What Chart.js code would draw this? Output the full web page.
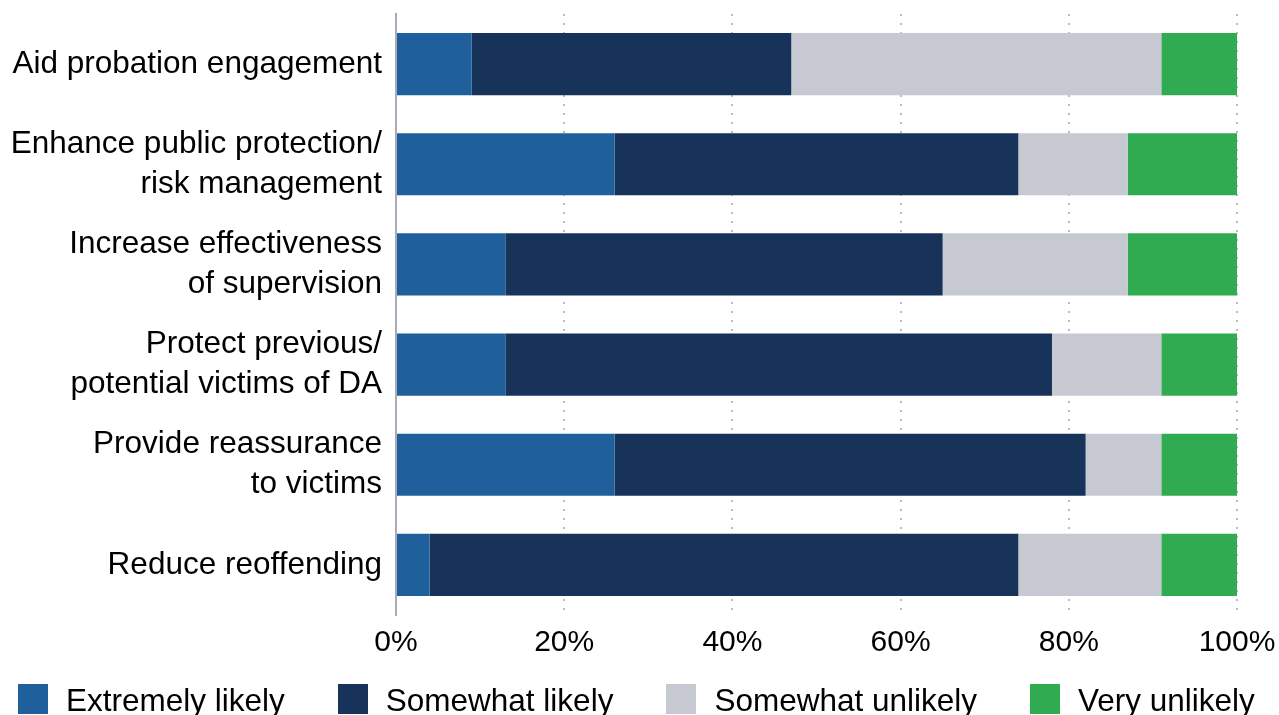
<!DOCTYPE html>
<html>
<head>
<meta charset="utf-8">
<script src="https://cdn.jsdelivr.net/npm/chart.js@4"></script>
<style>
  html, body { margin: 0; padding: 0; background: #fff; overflow: hidden; }
  #wrap { position: relative; width: 1279px; height: 715px; overflow: hidden; }
  #legend {
    position: absolute; left: 18px; top: 684px;
    display: flex; gap: 53px; white-space: nowrap;
    font-family: 'Liberation Sans', Arial, sans-serif; font-size: 31.5px; color: #000;
  }
  #legend .item { display: flex; align-items: center; }
  #legend .box { width: 30px; height: 30px; margin-right: 18px; }
  #legend .text { line-height: 30px; position: relative; top: 1px; }
</style>
</head>
<body>
<div id="wrap">
  <canvas id="ch" width="1279" height="715"></canvas>
  <div id="legend"></div>
</div>
<script>
// survey statements (multi-line labels)
const categories = [
  ['Aid probation engagement'],
  ['Enhance public protection/', 'risk management'],
  ['Increase effectiveness', 'of supervision'],
  ['Protect previous/', 'potential victims of DA'],
  ['Provide reassurance', 'to victims'],
  ['Reduce reoffending']
];

// percentages per response
const extremelyLikely = [9, 26, 13, 13, 26, 4];
const somewhatLikely = [38, 48, 52, 65, 56, 70];
const somewhatUnlikely = [44, 13, 22, 13, 9, 17];
const veryUnlikely = [9, 13, 13, 9, 9, 9];

const xTicks = [0, 20, 40, 60, 80, 100];

const seriesNames = ['Extremely likely', 'Somewhat likely', 'Somewhat unlikely', 'Very unlikely'];
const seriesColors = ['#1f5f9c', '#17335a', '#c6c9d1', '#30ab52'];
const seriesData = [extremelyLikely, somewhatLikely, somewhatUnlikely, veryUnlikely];

const font = "'Liberation Sans', Arial, sans-serif";

// legend in one row under the axis, built from the chart's own legend items
const htmlLegend = {
  id: 'htmlLegend',
  afterUpdate(chart) {
    const el = document.getElementById('legend');
    el.innerHTML = '';
    const items = chart.options.plugins.legend.labels.generateLabels(chart);
    items.forEach(item => {
      const row = document.createElement('div');
      row.className = 'item';
      const box = document.createElement('span');
      box.className = 'box';
      box.style.background = item.fillStyle;
      const txt = document.createElement('span');
      txt.className = 'text';
      txt.textContent = item.text;
      row.appendChild(box);
      row.appendChild(txt);
      el.appendChild(row);
    });
  }
};

const ctx = document.getElementById('ch').getContext('2d');
new Chart(ctx, {
  type: 'bar',
  data: {
    labels: categories,
    datasets: seriesData.map((d, i) => ({
      label: seriesNames[i],
      data: d,
      backgroundColor: seriesColors[i],
      borderWidth: 0,
      barPercentage: 0.62,
      categoryPercentage: 1.0
    }))
  },
  options: {
    indexAxis: 'y',
    responsive: false,
    animation: false,
    events: [],
    layout: { padding: { top: 14, right: 42, left: 0, bottom: 44 } },
    scales: {
      x: {
        stacked: true,
        min: 0,
        max: 100,
        afterBuildTicks: (scale) => { scale.ticks = xTicks.map(v => ({ value: v })); },
        afterFit: (scale) => { scale.paddingLeft = 0; scale.paddingRight = 0; },
        ticks: {
          color: '#000',
          font: { family: font, size: 30 },
          padding: 10,
          maxRotation: 0,
          callback: (v) => v + '%'
        },
        grid: {
          color: '#b9bac6',
          lineWidth: 2,
          drawTicks: false
        },
        border: { display: false, dash: [2, 7] }
      },
      y: {
        stacked: true,
        afterFit: (scale) => {
          scale.width = 396;
          scale.paddingTop = 0;
          scale.paddingBottom = 0;
        },
        ticks: {
          color: '#000',
          autoSkip: false,
          font: { family: font, size: 31.5, lineHeight: 1.27 },
          padding: 14
        },
        grid: { display: false, drawTicks: false },
        border: { display: true, color: '#a9abb8', width: 2 }
      }
    },
    plugins: {
      tooltip: { enabled: false },
      legend: { display: false }
    }
  },
  plugins: [htmlLegend]
});
</script>
</body>
</html>
